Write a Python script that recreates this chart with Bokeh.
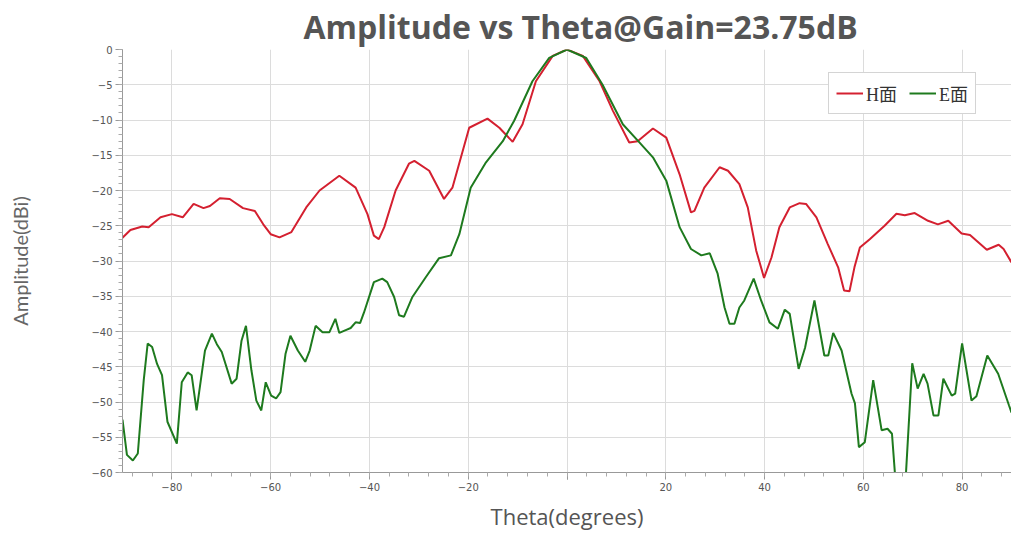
from bokeh.plotting import figure
from bokeh.models import Range1d, FixedTicker, Legend, LegendItem
from bokeh.embed import file_html
from bokeh.resources import INLINE

title_text = "Amplitude vs Theta@Gain=23.75dB"
x_label = "Theta(degrees)"
y_label = "Amplitude(dBi)"
series_names = ["H面", "E面"]

theta_h = [-90, -88.4, -86.0, -84.7, -82.3, -80, -77.8, -75.6, -73.6, -72.3, -70.3, -68.3,
           -65.6, -63.2, -61.5, -60, -58.2, -55.8, -52.8, -50.1, -46.1, -42.8, -40.4, -39.1,
           -38.1, -37.0, -34.7, -32.0, -30.9, -27.9, -24.9, -23.2, -19.8, -16.1, -13.7, -11.0,
           -9.0, -6.3, -2.9, 0, 3.2, 6.6, 9.3, 12.6, 14.3, 17.4, 20.1, 22.8, 25.1, 25.8, 27.8,
           30.9, 32.6, 34.9, 36.6, 38.3, 39.9, 41.4, 43.0, 45.1, 47.1, 48.4, 50.5, 52.8, 54.9,
           56.1, 57.2, 58.2, 59.3, 61.3, 64.3, 66.7, 68.4, 70.4, 73.1, 75.1, 77.2, 79.9, 81.6,
           85.0, 87.4, 88.4, 90]
amp_h = [-26.7, -25.6, -25.1, -25.2, -23.8, -23.35, -23.8, -21.9, -22.5, -22.2, -21.1, -21.2,
         -22.5, -22.9, -24.8, -26.2, -26.65, -25.9, -22.4, -20.0, -17.9, -19.6, -23.35, -26.4,
         -26.9, -25.2, -20.0, -16.2, -15.8, -17.2, -21.2, -19.6, -11.1, -9.8, -11.1, -13.1,
         -10.6, -4.5, -0.9, 0, -0.9, -4.5, -8.7, -13.2, -13.0, -11.2, -12.5, -17.7, -23.1, -22.9, -19.6,
         -16.7, -17.2, -19.1, -22.4, -28.5, -32.4, -29.5, -25.2, -22.4, -21.8, -21.9, -23.8, -27.6, -30.9,
         -34.2, -34.3, -30.9, -28.1, -26.9, -25.0, -23.3, -23.5, -23.2, -24.3, -24.8, -24.3, -26.1, -26.3,
         -28.4, -27.7, -28.3, -30.2]

theta_e = [-90, -89.1, -87.9, -86.9, -85.7, -84.9, -84.0, -83.0, -82.0, -80.9, -79.0, -78.0,
           -76.8, -76.0, -75.0, -73.3, -71.9, -70.9, -69.9, -67.9, -66.9, -65.9, -65.0, -63.9,
           -62.9, -61.9, -61.0, -59.9, -58.9, -58.0, -57.0, -56.0, -54.5, -53.0, -52.1, -50.9,
           -49.5, -48.1, -46.9, -46.1, -44.8, -43.8, -42.8, -41.9, -41.1, -39.1, -37.4, -36.4,
           -35.0, -34.0, -33.0, -31.3, -28.6, -25.9, -23.5, -21.8, -19.5, -16.4, -13.0, -10.7,
           -7.0, -3.6, 0, 3.9, 7.2, 11.3, 14.7, 17.4, 20.1, 22.8, 25.1, 27.2, 28.9, 30.5, 31.9,
           32.9, 33.9, 34.9, 35.9, 37.8, 39.3, 41.0, 42.7, 44.1, 45.1, 46.9, 48.2, 50.1, 52.1,
           52.9, 53.9, 55.6, 57.6, 58.3, 59.1, 60.3, 62.0, 63.7, 64.9, 65.8, 66.7, 68.4, 69.9,
           71.0, 72.2, 73.0, 74.2, 75.2, 76.2, 77.9, 78.6, 80.0, 81.9, 82.9, 85.1, 87.3, 89.5, 90]
amp_e = [-52.5, -57.5, -58.3, -57.3, -46.9, -41.7, -42.2, -44.6, -46.2, -52.8, -55.9, -47.2,
         -45.8, -46.2, -51.2, -42.7, -40.3, -41.8, -42.9, -47.4, -46.7, -41.3, -39.2, -45.5,
         -49.8, -51.2, -47.2, -49.1, -49.5, -48.6, -43.2, -40.6, -42.7, -44.3, -42.7, -39.2,
         -40.1, -40.1, -38.2, -40.2, -39.8, -39.5, -38.7, -38.8, -37.3, -33.0, -32.5, -33.0,
         -35.1, -37.7, -37.9, -35.1, -32.3, -29.6, -29.2, -26.2, -19.6, -16.0, -13.0, -10.1,
         -4.5, -1.2, 0, -1.2, -5.0, -10.6, -13.2, -15.3, -18.6, -25.2, -28.3, -29.2, -28.9, -31.8, -36.6,
         -38.9, -38.9, -36.6, -35.6, -32.5, -35.6, -38.7, -39.6, -36.9, -37.5, -45.3, -42.3, -35.6, -43.4,
         -43.4, -40.2, -42.7, -48.8, -50.2, -56.4, -55.7, -46.9, -54.0, -53.8, -54.5, -63.0, -63.0, -44.5,
         -48.1, -46.0, -47.4, -51.9, -51.9, -46.7, -49.1, -48.8, -41.7, -49.8, -49.2, -43.4, -46.0, -50.5, -51.5]

x_major = list(range(-80, 81, 20))
x_minor = list(range(-88, 90, 4))
y_major = list(range(-60, 1, 5))
y_minor = list(range(-60, 1, 1))

p = figure(width=1011, height=533, output_backend="svg", toolbar_location=None,
           x_range=Range1d(-90, 90), y_range=Range1d(-60, 0),
           min_border_left=122, min_border_right=0, min_border_top=48, min_border_bottom=60,
           title=title_text)
p.outline_line_color = None
p.background_fill_color = "white"

p.title.align = "left"
p.title.offset = 181
p.title.text_font = "Open Sans"
p.title.text_font_style = "bold"
p.title.text_font_size = "32px"
p.title.text_color = "#555555"
p.title.standoff = 4

xt = FixedTicker(ticks=x_major + [0], minor_ticks=x_minor)
yt = FixedTicker(ticks=y_major, minor_ticks=y_minor)
p.xaxis.ticker = xt
p.yaxis.ticker = yt
p.xgrid.ticker = xt
p.ygrid.ticker = yt
p.xaxis.major_label_overrides = {0: ""}
for g in (p.xgrid, p.ygrid):
    g.grid_line_color = "#dcdcdc"
    g.grid_line_width = 1

for ax in (p.xaxis, p.yaxis):
    ax.axis_line_color = "#999999"
    ax.major_tick_line_color = "#999999"
    ax.minor_tick_line_color = "#aaaaaa"
    ax.major_tick_out = 7
    ax.major_tick_in = 0
    ax.minor_tick_out = 4
    ax.minor_tick_in = 0
    ax.major_label_text_font = "DejaVu Sans"
    ax.major_label_text_font_size = "10px"
    ax.major_label_text_color = "#555555"
    ax.major_label_standoff = 3

p.xaxis.axis_label = x_label
p.xaxis.axis_label_text_font = "Open Sans"
p.xaxis.axis_label_text_font_size = "22px"
p.xaxis.axis_label_text_font_style = "normal"
p.xaxis.axis_label_text_color = "#555555"
p.xaxis.axis_label_standoff = 7

p.yaxis.axis_label = y_label
p.yaxis.axis_label_text_font = "Lato"
p.yaxis.axis_label_text_font_size = "20px"
p.yaxis.axis_label_text_font_style = "normal"
p.yaxis.axis_label_text_color = "#666666"
p.yaxis.axis_label_standoff = 56

rh = p.line(theta_h, amp_h, line_color="#d42030", line_width=2)
re = p.line(theta_e, amp_e, line_color="#1e7a1e", line_width=2)

legend = Legend(items=[LegendItem(label=series_names[0], renderers=[rh]),
                       LegendItem(label=series_names[1], renderers=[re])],
                orientation="horizontal", location=(706, 358))
legend.label_text_font = "Liberation Serif, Noto Sans CJK SC"
legend.label_text_font_size = "18px"
legend.label_text_color = "#333333"
legend.glyph_width = 27
legend.glyph_height = 20
legend.label_height = 20
legend.label_standoff = 3
legend.spacing = 12
legend.padding = 7
legend.margin = 0
legend.border_line_color = "#aaaaaa"
legend.border_line_width = 1
legend.background_fill_color = "white"
legend.background_fill_alpha = 1
p.add_layout(legend)

open("out.html", "w").write(file_html(p, INLINE))
